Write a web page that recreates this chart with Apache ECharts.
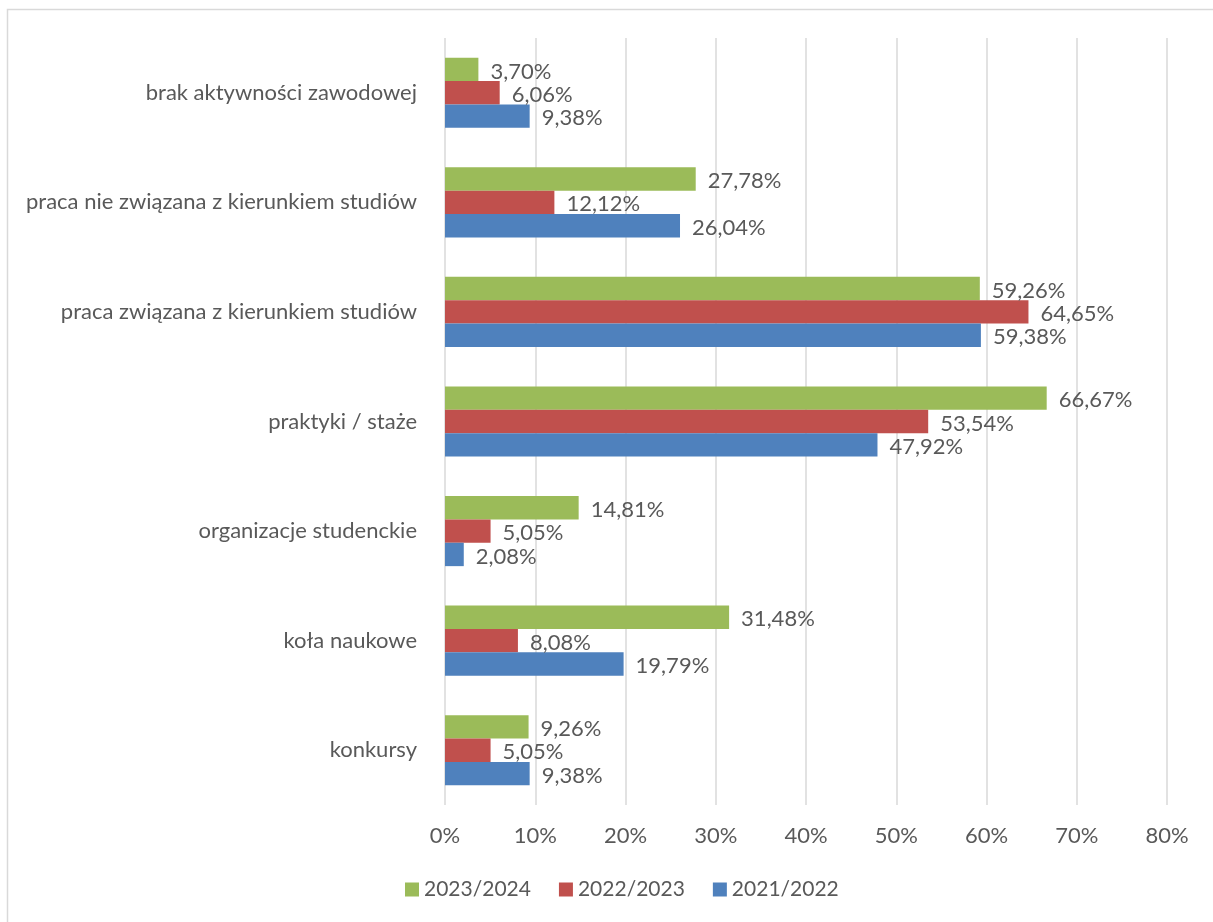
<!DOCTYPE html>
<html>
<head>
<meta charset="utf-8">
<script src="https://cdn.jsdelivr.net/npm/echarts@6/dist/echarts.min.js"></script>
<style>
html,body{margin:0;padding:0;background:#fff;}
#chart{width:1213px;height:922px;}
</style>
</head>
<body>
<div id="chart"></div>
<script>
const categories = ['konkursy', 'koła naukowe', 'organizacje studenckie', 'praktyki / staże',
  'praca związana z kierunkiem studiów', 'praca nie związana z kierunkiem studiów', 'brak aktywności zawodowej'];
const s2023_2024 = [9.26, 31.48, 14.81, 66.67, 59.26, 27.78, 3.70];
const s2022_2023 = [5.05, 8.08, 5.05, 53.54, 64.65, 12.12, 6.06];
const s2021_2022 = [9.38, 19.79, 2.08, 47.92, 59.38, 26.04, 9.38];
const seriesNames = ['2023/2024', '2022/2023', '2021/2022'];
const xTicks = [0, 10, 20, 30, 40, 50, 60, 70, 80];

const FONT = 'Lato';
const TXT = '#595959';
const colors = ['#9BBB59', '#C0504D', '#4F81BD'];

const chart = echarts.init(document.getElementById('chart'), null, {renderer: 'canvas'});
const mk = (name, data, color) => ({
  name, type: 'bar', data, barGap: '0%', barCategoryGap: '36%',
  itemStyle: {color},
  label: {
    show: true, position: 'right', distance: 12, offset: [0, 2], color: TXT, fontFamily: FONT, fontSize: 22,
    formatter: p => p.value.toFixed(2).replace('.', ',') + '%'
  }
});
chart.setOption({
  animation: false,
  backgroundColor: '#fff',
  textStyle: {fontFamily: FONT},
  graphic: [{
    type: 'rect', shape: {x: 7.5, y: 9.5, width: 1300, height: 1000},
    style: {fill: 'none', stroke: '#D9D9D9', lineWidth: 1.5}, silent: true
  }],
  grid: {left: 445, right: 46, top: 38, bottom: 117, containLabel: false},
  legend: {
    data: seriesNames, bottom: 17, left: 400, itemWidth: 14, itemHeight: 14, itemGap: 28,
    icon: 'rect', textStyle: {color: TXT, fontFamily: FONT, fontSize: 21}
  },
  xAxis: {
    type: 'value', min: xTicks[0], max: xTicks[xTicks.length - 1], interval: 10,
    axisLine: {show: false}, axisTick: {show: false},
    splitLine: {show: true, lineStyle: {color: '#D9D9D9', width: 1.5}},
    axisLabel: {color: TXT, fontFamily: FONT, fontSize: 22, margin: 20, formatter: v => v + '%'}
  },
  yAxis: {
    type: 'category', data: categories,
    axisLine: {show: false}, axisTick: {show: false},
    axisLabel: {color: TXT, fontFamily: FONT, fontSize: 22, margin: 28}
  },
  series: [
    mk(seriesNames[0], s2023_2024, colors[0]),
    mk(seriesNames[1], s2022_2023, colors[1]),
    mk(seriesNames[2], s2021_2022, colors[2])
  ]
});
</script>
</body>
</html>
